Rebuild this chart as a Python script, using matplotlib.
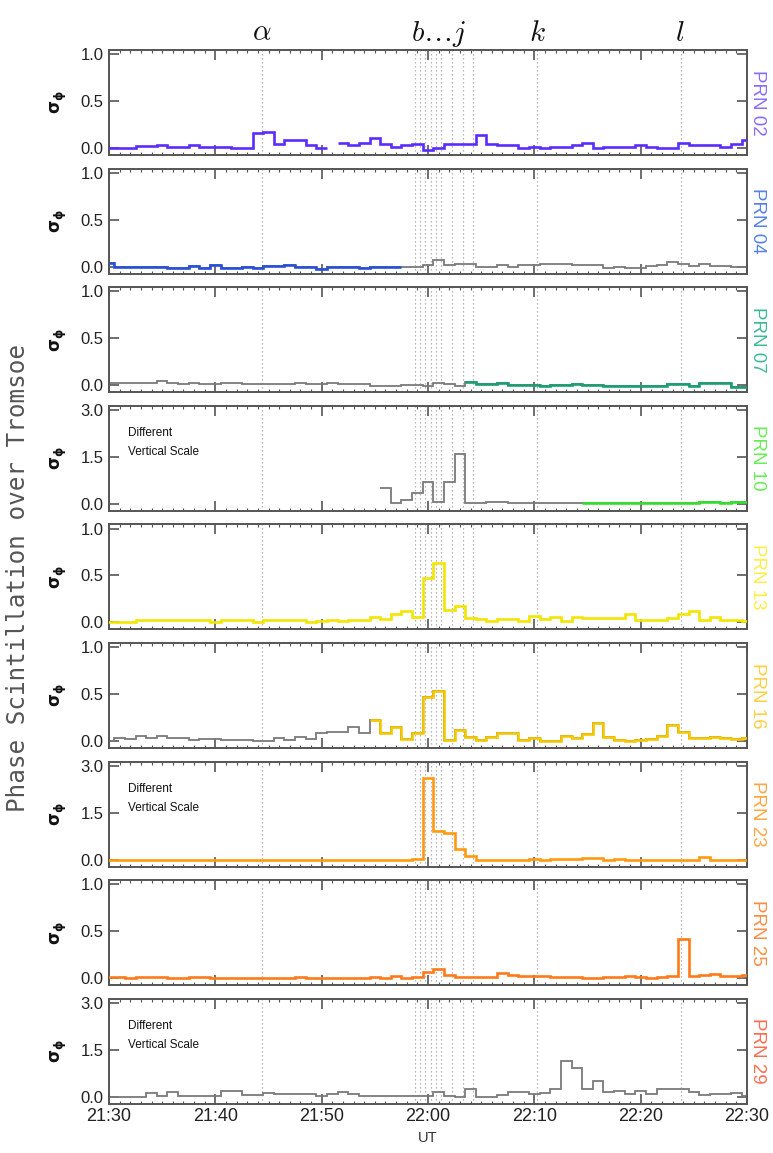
import numpy as np
import matplotlib
matplotlib.use("Agg")
import matplotlib.pyplot as plt
import matplotlib.transforms as mtransforms
from matplotlib.ticker import MultipleLocator

plt.rcParams['font.family'] = ['Liberation Sans', 'DejaVu Sans']
plt.rcParams['mathtext.fontset'] = 'dejavusans'

nan = np.nan

# ---------------- data ----------------
minutes = np.arange(0, 61)                      # minutes after 21:30 UT
time_ticks = [0, 10, 20, 30, 40, 50, 60]
time_labels = ['21:30', '21:40', '21:50', '22:00', '22:10', '22:20', '22:30']

event_lines = [14.4, 28.75, 29.25, 29.75, 30.25, 30.75, 31.25, 32.25, 33.25, 34.25, 40.25, 53.75]
event_label_x = [14.4, 31.0, 40.3, 53.7]
event_label_text = [r'$\alpha$', r'$b\ldots j$', r'$k$', r'$l$']

prn_names = ['PRN 02', 'PRN 04', 'PRN 07', 'PRN 10', 'PRN 13', 'PRN 16', 'PRN 23', 'PRN 25', 'PRN 29']

prn02 = [0.0, 0.0, 0.0, 0.02, 0.02, 0.03, 0.015, 0.015, 0.03, 0.015,
         0.015, 0.015, 0.0, 0.0, 0.16, 0.17, 0.045, 0.08, 0.08, 0.03,
         0.0, nan, 0.05, 0.03, 0.05, 0.11, 0.045, 0.01, 0.03, 0.045,
         -0.02, 0.0, 0.045, 0.045, 0.045, 0.14, 0.045, 0.03, 0.03, 0.0,
         0.015, 0.0, 0.015, 0.015, 0.03, 0.05, 0.0, 0.015, 0.015, 0.015,
         0.03, 0.015, 0.0, 0.0, 0.055, 0.03, 0.03, 0.03, 0.01, 0.045,
         0.08]
prn04 = [0.035, 0.0, 0.0, 0.0, 0.0, 0.0, -0.01, -0.01, 0.01, -0.01,
         0.02, -0.01, -0.01, 0.0, -0.01, 0.005, 0.005, 0.02, 0.0, 0.0,
         -0.025, -0.005, -0.005, -0.005, -0.015, 0.0, 0.0, 0.0, 0.0, 0.0,
         0.02, 0.07, 0.02, 0.03, 0.03, 0.0, 0.0, 0.015, 0.0, 0.02,
         0.02, 0.03, 0.03, 0.03, 0.02, 0.02, 0.02, -0.015, 0.0, -0.01,
         -0.01, 0.005, 0.02, 0.05, 0.025, 0.01, 0.025, 0.01, 0.01, 0.0,
         0.0]
prn07 = [0.018, 0.018, 0.027, 0.027, 0.027, 0.04, 0.027, 0.01, 0.018, 0.01,
         0.01, 0.022, 0.022, 0.01, 0.01, 0.01, 0.01, 0.01, 0.022, 0.01,
         0.01, 0.022, 0.01, 0.01, 0.01, -0.01, -0.01, -0.01, 0.005, 0.0,
         -0.01, 0.018, 0.01, -0.005, 0.03, 0.01, 0.01, 0.018, 0.0, 0.0,
         0.0, -0.013, 0.0, 0.0, 0.013, 0.0, 0.0, -0.013, -0.005, -0.005,
         -0.005, -0.005, -0.005, 0.013, 0.013, -0.01, 0.018, 0.018, 0.018, -0.018,
         -0.018]
prn10 = [nan, nan, nan, nan, nan, nan, nan, nan, nan, nan,
         nan, nan, nan, nan, nan, nan, nan, nan, nan, nan,
         nan, nan, nan, nan, nan, nan, 0.5, 0.03, 0.12, 0.35,
         0.7, 0.05, 0.7, 1.6, 0.04, 0.04, 0.05, 0.05, 0.02, 0.02,
         0.02, 0.02, 0.02, 0.02, 0.02, 0.02, 0.02, 0.02, 0.02, 0.02,
         0.02, 0.02, 0.02, 0.02, 0.02, 0.02, 0.045, 0.045, 0.02, 0.05,
         0.05]
prn13 = [0.0, 0.0, 0.0, 0.025, 0.025, 0.025, 0.025, 0.025, 0.025, 0.025,
         0.0, 0.02, 0.02, 0.02, 0.0, 0.02, 0.02, 0.02, 0.02, 0.0,
         0.015, 0.025, 0.015, 0.025, 0.025, 0.06, 0.035, 0.09, 0.12, 0.06,
         0.47, 0.63, 0.13, 0.17, 0.05, 0.04, 0.01, 0.035, 0.035, 0.01,
         0.07, 0.035, 0.06, 0.01, 0.06, 0.05, 0.05, 0.05, 0.05, 0.09,
         0.02, 0.02, 0.03, 0.05, 0.09, 0.12, 0.03, 0.06, 0.02, 0.03,
         0.01]
prn16 = [0.0, 0.03, 0.02, 0.05, 0.035, 0.05, 0.035, 0.035, 0.015, 0.025,
         0.025, 0.015, 0.015, 0.015, 0.0, 0.0, 0.03, 0.015, 0.04, 0.025,
         0.09, 0.1, 0.1, 0.15, 0.085, 0.22, 0.085, 0.15, 0.02, 0.09,
         0.47, 0.53, 0.015, 0.12, 0.045, 0.01, 0.045, 0.09, 0.08, 0.01,
         0.03, 0.0, 0.0, 0.055, 0.03, 0.075, 0.19, 0.045, 0.01, 0.0,
         0.01, 0.02, 0.05, 0.17, 0.1, 0.03, 0.03, 0.045, 0.03, 0.02,
         0.03]
prn23 = [0.0, 0.0, 0.0, 0.0, 0.0, 0.0, 0.0, 0.0, 0.0, 0.0,
         0.0, 0.0, 0.0, 0.0, 0.0, 0.0, 0.0, 0.0, 0.0, 0.0,
         0.0, 0.0, 0.0, 0.0, 0.0, 0.0, 0.0, 0.0, 0.0, 0.02,
         2.6, 0.91, 0.85, 0.35, 0.12, 0.0, 0.0, 0.0, 0.0, 0.0,
         0.03, 0.0, 0.03, 0.03, 0.03, 0.05, 0.05, 0.0, 0.03, 0.0,
         0.0, 0.0, 0.0, 0.0, 0.0, 0.0, 0.09, 0.0, 0.0, 0.0,
         0.0]
prn25 = [0.01, 0.01, 0.0, 0.01, 0.01, 0.01, 0.0, 0.0, 0.015, 0.015,
         0.0, 0.0, 0.0, 0.0, 0.0, 0.0, 0.0, 0.0, 0.01, 0.0,
         0.0, 0.0, 0.0, 0.0, 0.0, 0.015, 0.0, 0.025, 0.0, 0.01,
         0.065, 0.1, 0.035, 0.01, 0.01, 0.01, 0.01, 0.06, 0.03, 0.02,
         0.02, 0.02, 0.01, 0.01, 0.01, 0.0, 0.0, 0.01, 0.01, 0.02,
         0.01, 0.0, 0.01, 0.02, 0.42, 0.02, 0.03, 0.04, 0.02, 0.02,
         0.035]
prn29 = [0.0, 0.0, 0.0, 0.0, 0.13, 0.03, 0.15, 0.02, 0.02, 0.02,
         0.02, 0.17, 0.17, 0.06, 0.06, 0.12, 0.1, 0.1, 0.1, 0.1,
         0.03, 0.09, 0.16, 0.09, 0.01, 0.01, 0.01, 0.01, 0.01, 0.01,
         0.01, 0.14, 0.04, 0.0, 0.26, 0.0, 0.0, 0.07, 0.15, 0.15,
         0.08, 0.13, 0.26, 1.15, 0.92, 0.26, 0.52, 0.15, 0.2, 0.08,
         0.17, 0.09, 0.24, 0.24, 0.25, 0.15, 0.06, 0.09, 0.09, 0.12,
         0.02]
prn_values = [prn02, prn04, prn07, prn10, prn13, prn16, prn23, prn25, prn29]

# minute range (inclusive) drawn in the satellite colour; the rest is grey
colored_ranges = [(0, 60), (0, 27), (34, 60), (45, 60), (0, 60), (25, 60), (0, 60), (0, 60), None]
panel_ymax = [1.0, 1.0, 1.0, 3.0, 1.0, 1.0, 3.0, 1.0, 3.0]

line_colors = ['#5a2cff', '#2850d8', '#1a9e72', '#35e02c', '#f2e600', '#f5c800', '#ff9a10', '#ff7a1a', '#ff6b50']
label_colors = ['#8a6bff', '#5580e8', '#3dbb90', '#66ee55', '#ffee44', '#ffd040', '#ffa640', '#ff8c40', '#ff6b50']
GREY = '#7a7a7a'
SPINE = '#555555'

# ---------------- figure ----------------
W, H = 773, 1153
fig = plt.figure(figsize=(W / 100, H / 100), dpi=100)

left_px, right_px = 109, 747
top0_px, pitch_px, height_px = 50, 118.6, 105

edges = np.append(minutes - 0.5, minutes[-1] + 0.5)
axes = []
for i in range(9):
    top_px = top0_px + pitch_px * i
    ax = fig.add_axes([left_px / W, 1 - (top_px + height_px) / H,
                       (right_px - left_px) / W, height_px / H])
    axes.append(ax)
    vals = np.asarray(prn_values[i], dtype=float)
    ymax = panel_ymax[i]

    for xe in event_lines:
        ax.axvline(xe, color='#a0a0a0', lw=0.9, ls=(0, (1, 2.2)), zorder=0)

    rng = colored_ranges[i]
    if rng is None or rng != (0, 60):
        ax.stairs(vals, edges, baseline=None, color=GREY, lw=1.3, zorder=2)
    if rng is not None:
        a, b = rng
        ax.stairs(vals[a:b + 1], edges[a:b + 2], baseline=None,
                  color=line_colors[i], lw=1.9, zorder=3)

    ax.set_xlim(0, 60)
    ax.set_ylim(-0.075 * ymax, 1.045 * ymax)
    yt = [0, ymax / 2, ymax]
    ax.set_yticks(yt)
    ax.set_yticklabels(['%.1f' % v for v in yt], fontsize=12, color='#222222')
    ax.set_xticks(time_ticks)
    ax.xaxis.set_minor_locator(MultipleLocator(1))
    ax.tick_params(which='both', direction='in', top=True, right=True, colors=SPINE,
                   labelcolor='#222222')
    ax.tick_params(which='major', length=7, width=1.2, pad=4)
    ax.tick_params(which='minor', length=2.5, width=0.8)
    if i == 8:
        ax.set_xticklabels(time_labels, fontsize=13)
        ax.tick_params(axis='x', pad=3)
    else:
        ax.tick_params(axis='x', labelbottom=False)
    for s in ax.spines.values():
        s.set_color(SPINE)
        s.set_linewidth(1.4)

    ax.set_ylabel(r'$\mathbf{\sigma_\phi}$', fontsize=12, color='#111111')
    ax.yaxis.set_label_coords(-0.062, 0.5)

    ax.text(1.016, 0.5, prn_names[i], transform=ax.transAxes, rotation=-90,
            ha='center', va='center', fontsize=13.5, color=label_colors[i])

    if ymax > 1.0:
        ax.text(0.03, 0.80, 'Different\nVertical Scale', transform=ax.transAxes,
                fontsize=8.5, va='top', ha='left', linespacing=1.8, color='#111111')

# event letters above first panel
trans = mtransforms.blended_transform_factory(axes[0].transData, axes[0].transAxes)
for xl, txt in zip(event_label_x, event_label_text):
    axes[0].text(xl, 1.09, txt, transform=trans, ha='center', va='baseline',
                 fontsize=21, math_fontfamily='cm', color='#111111')

fig.text(18 / W, 1 - 578 / H, 'Phase Scintillation over Tromsoe', rotation=90,
         ha='center', va='center', fontsize=17.5, color='#555555', family='DejaVu Sans Mono')
fig.text(428 / W, 1 - 1138 / H, 'UT', ha='center', va='center', fontsize=10.5, color='#333333')

fig.savefig('out.png', dpi=100)
